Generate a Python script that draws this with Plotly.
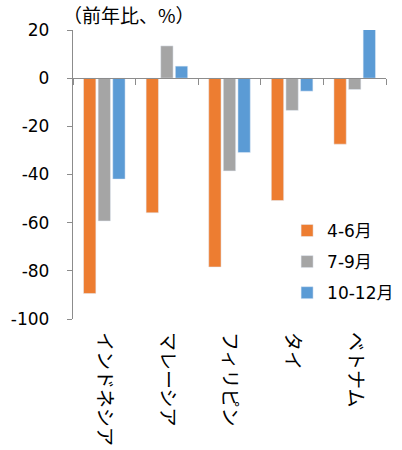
import plotly.graph_objects as go

# Year-on-year change by quarter (%)
categories = ["インドネシア", "マレーシア", "フィリピン", "タイ", "ベトナム"]
series_names = ["4-6月", "7-9月", "10-12月"]
apr_jun = [-89.4, -55.9, -78.4, -50.8, -27.4]
jul_sep = [-59.3, 13.4, -38.5, -13.4, -4.7]
oct_dec = [-41.9, 5.0, -30.9, -5.4, 20.3]
y_ticks = [20, 0, -20, -40, -60, -80, -100]

colors = ["#ED7D31", "#A5A5A5", "#5B9BD5"]
axis_color = "#8C8C8C"
font_family = "DejaVu Sans, Noto Sans CJK JP, sans-serif"
jp_font = "Noto Sans CJK JP, sans-serif"

y_min, y_max = min(y_ticks), max(y_ticks)

fig = go.Figure()
for name, vals, col in zip(series_names, [apr_jun, jul_sep, oct_dec], colors):
    fig.add_trace(go.Bar(
        x=categories, y=vals, name=name, marker_color=col,
        legendgroup=name,
    ))

# invisible helper so the category axis drawn at y=0 is rendered
fig.add_trace(go.Scatter(
    x=categories, y=[0] * len(categories), xaxis="x2", mode="markers",
    marker=dict(opacity=0), showlegend=False, hoverinfo="skip",
))

fig.update_layout(
    width=402, height=450,
    margin=dict(l=73, r=16, t=30, b=131, autoexpand=False),
    plot_bgcolor="white", paper_bgcolor="white",
    barmode="group", bargap=0.30, bargroupgap=0.155,
    font=dict(family=font_family, size=17, color="#000000"),
    showlegend=True,
    legend=dict(
        x=0.684, xanchor="left", y=0.367, yanchor="top",
        font=dict(family=font_family, size=17),
        tracegroupgap=6, bgcolor="rgba(0,0,0,0)",
    ),
    xaxis=dict(
        type="category", categoryorder="array", categoryarray=categories,
        range=[-0.5, len(categories) - 0.5], automargin=False,
        showline=False, showgrid=False, zeroline=False, ticks="",
        tickangle=90, tickfont=dict(family=jp_font, size=19),
        ticklabelstandoff=12,
    ),
    xaxis2=dict(
        type="category", categoryorder="array", categoryarray=categories,
        range=[-0.5, len(categories) - 0.5], automargin=False,
        overlaying="x", anchor="free",
        position=(0 - y_min) / (y_max - y_min),
        showline=True, linecolor=axis_color, linewidth=1.3,
        ticks="outside", tickson="boundaries", ticklen=6,
        tickcolor=axis_color, tickwidth=1.3,
        showticklabels=False, showgrid=False, zeroline=False,
    ),
    yaxis=dict(
        range=[y_min, y_max], tickvals=y_ticks, automargin=False,
        ticktext=[str(v) for v in y_ticks],
        showline=True, linecolor=axis_color, linewidth=1.3,
        ticks="outside", ticklen=5, tickcolor=axis_color, tickwidth=1.3,
        showgrid=False, zeroline=False,
        tickfont=dict(family=font_family, size=17),
        ticklabelstandoff=14,
    ),
    annotations=[dict(
        text="（前年比、%）", xref="paper", yref="paper",
        x=0, y=1, xanchor="left", yanchor="bottom", yshift=0, xshift=-12,
        showarrow=False, font=dict(family=jp_font, size=19),
    )],
)

fig.write_html("out.html")
